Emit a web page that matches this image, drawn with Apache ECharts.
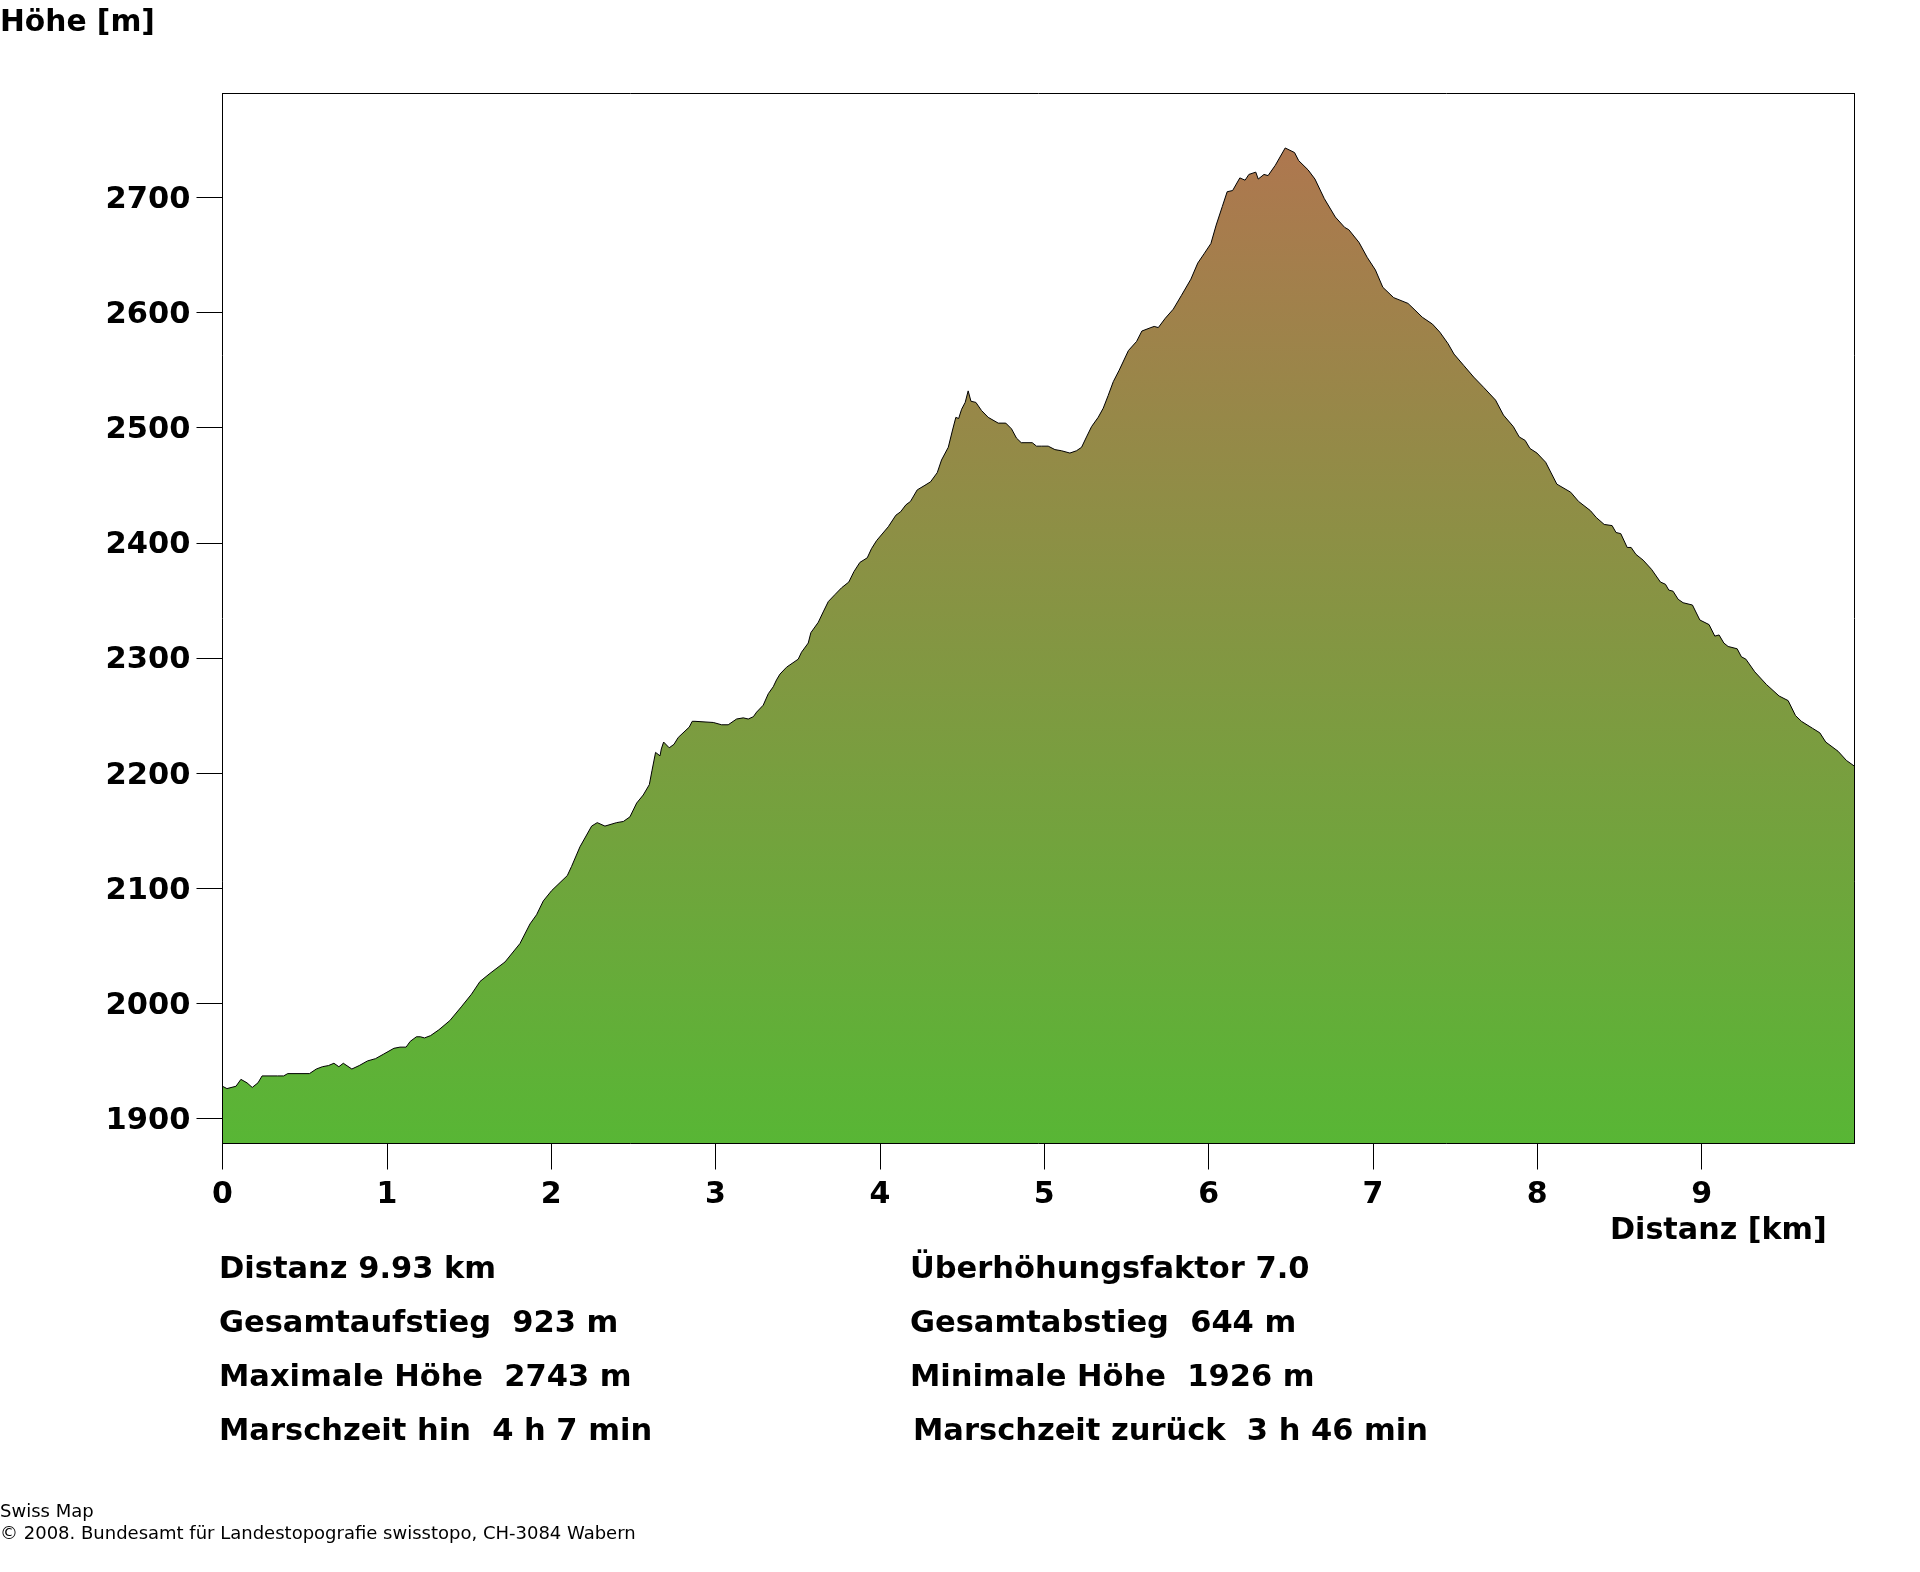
<!DOCTYPE html>
<html>
<head>
<meta charset="utf-8">
<title>Höhenprofil</title>
<style>
  html, body { margin: 0; padding: 0; background: #fff; }
  #chart { width: 1920px; height: 1572px; }
</style>
<script src="https://cdn.jsdelivr.net/npm/echarts@6/dist/echarts.min.js"></script>
</head>
<body>
<div id="chart"></div>
<script>
const distKm = [
  0, .027, .082, .112, .119, .149, .181, .216, .241, .335, .372, .397, .529, .571, .608, .645, .678, .708, .735, .787,
  .832, .882, .931, .981, 1.043, 1.080, 1.117, 1.142, 1.180, 1.204, 1.229, 1.266, 1.316, 1.383, 1.453, 1.515, 1.5665, 1.627, 1.719, 1.810,
  1.871, 1.911, 1.952, 2.003, 2.098, 2.124, 2.175, 2.246, 2.280, 2.327, 2.398, 2.439, 2.479, 2.520, 2.560, 2.597, 2.613, 2.635, 2.662, 2.670,
  2.684, 2.718, 2.747, 2.773, 2.840, 2.858, 2.875, 2.986, 3.037, 3.077, 3.128, 3.169, 3.199, 3.230, 3.250, 3.290, 3.321, 3.351, 3.371, 3.392,
  3.432, 3.503, 3.523, 3.564, 3.580, 3.625, 3.655, 3.686, 3.726, 3.767, 3.811, 3.842, 3.878, 3.923, 3.949, 3.980, 4.051, 4.097, 4.126, 4.158,
  4.186, 4.227, 4.274, 4.308, 4.349, 4.375, 4.416, 4.442, 4.462, 4.479, 4.497, 4.519, 4.537, 4.554, 4.584, 4.618, 4.659, 4.720, 4.766, 4.801,
  4.831, 4.860, 4.927, 4.953, 4.984, 5.024, 5.065, 5.105, 5.156, 5.196, 5.227, 5.257, 5.288, 5.328, 5.359, 5.389, 5.420, 5.456, 5.512, 5.562,
  5.594, 5.649, 5.669, 5.694, 5.736, 5.785, 5.835, 5.892, 5.934, 5.972, 6.014, 6.046, 6.083, 6.113, 6.146, 6.190, 6.222, 6.245, 6.287, 6.302,
  6.337, 6.362, 6.406, 6.466, 6.523, 6.548, 6.605, 6.647, 6.704, 6.771, 6.828, 6.853, 6.915, 6.965, 7.015, 7.060, 7.126, 7.213, 7.250, 7.300,
  7.362, 7.407, 7.457, 7.493, 7.553, 7.613, 7.674, 7.746, 7.794, 7.854, 7.890, 7.926, 7.955, 7.998, 8.051, 8.119, 8.203, 8.251, 8.323, 8.359,
  8.407, 8.455, 8.479, 8.508, 8.547, 8.571, 8.600, 8.644, 8.695, 8.749, 8.780, 8.800, 8.826, 8.857, 8.887, 8.944, 8.989, 9.045, 9.080, 9.106,
  9.135, 9.161, 9.216, 9.242, 9.269, 9.323, 9.394, 9.471, 9.526, 9.571, 9.607, 9.674, 9.719, 9.755, 9.830, 9.881, 9.93
];
const hoeheM = [
  1928, 1926, 1928, 1934, 1935, 1931, 1927, 1931, 1937, 1937, 1937, 1939, 1939, 1943, 1945, 1946, 1948, 1945, 1948, 1943,
  1946, 1950, 1952, 1956, 1961, 1962, 1962, 1967, 1971, 1971, 1970, 1972, 1977, 1985, 1997, 2008, 2019, 2026, 2036, 2052,
  2069, 2077, 2089, 2098, 2111, 2119, 2136, 2154, 2157, 2154, 2157, 2158, 2162, 2174, 2181, 2190, 2202, 2218, 2215, 2221,
  2227, 2222, 2225, 2231, 2240, 2245, 2245, 2244, 2242, 2242, 2247, 2248, 2247, 2249, 2253, 2259, 2269, 2275, 2281, 2286,
  2292, 2299, 2305, 2313, 2322, 2331, 2340, 2349, 2355, 2361, 2366, 2375, 2383, 2387, 2395, 2402, 2414, 2424, 2427, 2433,
  2436, 2446, 2450, 2453, 2461, 2472, 2483, 2498, 2509, 2508, 2516, 2522, 2532, 2523, 2522, 2515, 2509, 2504, 2504, 2499,
  2491, 2487, 2487, 2484, 2484, 2484, 2481, 2480, 2478, 2480, 2483, 2492, 2501, 2509, 2517, 2528, 2540, 2550, 2567, 2575,
  2584, 2587, 2588, 2587, 2595, 2603, 2615, 2629, 2643, 2651, 2660, 2676, 2692, 2705, 2706, 2717, 2715, 2720, 2722, 2716,
  2720, 2719, 2728, 2743, 2739, 2732, 2724, 2716, 2699, 2683, 2674, 2672, 2661, 2648, 2637, 2622, 2613, 2608, 2603, 2596,
  2590, 2583, 2573, 2564, 2554, 2544, 2535, 2524, 2511, 2501, 2492, 2489, 2482, 2478, 2470, 2451, 2444, 2436, 2428, 2422,
  2416, 2415, 2409, 2408, 2396, 2396, 2390, 2385, 2377, 2366, 2364, 2359, 2358, 2351, 2348, 2346, 2333, 2329, 2319, 2320,
  2313, 2310, 2308, 2301, 2299, 2288, 2277, 2267, 2263, 2250, 2245, 2239, 2235, 2227, 2219, 2211, 2206
];
const kmTicks = [0, 1, 2, 3, 4, 5, 6, 7, 8, 9];
const hoeheTicks = [1900, 2000, 2100, 2200, 2300, 2400, 2500, 2600, 2700];
const statsLinks = ['Distanz 9.93 km', 'Gesamtaufstieg  923 m', 'Maximale Höhe  2743 m', 'Marschzeit hin  4 h 7 min'];
const statsRechts = ['Überhöhungsfaktor 7.0', 'Gesamtabstieg  644 m', 'Minimale Höhe  1926 m', 'Marschzeit zurück  3 h 46 min'];
const fussnote = ['Swiss Map', '© 2008. Bundesamt für Landestopografie swisstopo, CH-3084 Wabern'];

const FONT = '"DejaVu Sans"';
const myChart = echarts.init(document.getElementById('chart'));

// y ist die Grundlinie, der Text wird aber von oben gesetzt
function boldText(text, x, y, size) {
  return {
    type: 'text', x: x, y: y - 0.81 * size,
    style: { text: text, font: 'bold ' + size + 'px ' + FONT, fill: '#000' }
  };
}

const texte = [
  boldText('Höhe [m]', 0, 32, 29.7),
  boldText('Distanz [km]', 1610, 1241, 30.2)
];
statsLinks.forEach((t, i) => texte.push(boldText(t, 219, 1279 + i * 54, 30.5)));
statsRechts.forEach((t, i) => texte.push(boldText(t, i === 3 ? 913 : 910, 1279 + i * 54, 30.5)));
fussnote.forEach((t, i) => texte.push({
  type: 'text', x: 0, y: 1518 + i * 22 - 14.6,
  style: { text: t, font: '18px ' + FONT, fill: '#000' }
}));

const frameLine = { show: true, onZero: false, lineStyle: { color: '#000', width: 1 } };

myChart.setOption({
  animation: false,
  backgroundColor: '#fff',
  grid: { left: 222.5, top: 93.5, width: 1632, height: 1050 },
  xAxis: [
    {
      type: 'value', min: 0, max: 9.93, z: 5,
      splitLine: { show: false },
      axisLine: frameLine,
      axisTick: { show: true, length: 26, customValues: kmTicks, lineStyle: { color: '#000', width: 1 } },
      axisLabel: {
        customValues: kmTicks, margin: 37, color: '#000', fontFamily: FONT, fontWeight: 'bold', fontSize: 30,
        formatter: v => String(v)
      }
    },
    { type: 'value', position: 'top', min: 0, max: 9.93, z: 5, splitLine: { show: false }, axisLine: frameLine, axisTick: { show: false }, axisLabel: { show: false } }
  ],
  yAxis: [
    {
      type: 'value', min: 1878.3, max: 2790.3, z: 5,
      splitLine: { show: false },
      axisLine: frameLine,
      axisTick: { show: true, length: 26, customValues: hoeheTicks, lineStyle: { color: '#000', width: 1 } },
      axisLabel: {
        customValues: hoeheTicks, margin: 32, color: '#000', fontFamily: FONT, fontWeight: 'bold', fontSize: 30.5,
        verticalAlign: 'top', lineHeight: 5,
        formatter: v => String(v)
      }
    },
    { type: 'value', position: 'right', min: 1878.3, max: 2790.3, z: 5, splitLine: { show: false }, axisLine: frameLine, axisTick: { show: false }, axisLabel: { show: false } }
  ],
  series: [{
    type: 'line',
    data: distKm.map((d, i) => [d, hoeheM[i]]),
    showSymbol: false,
    smooth: false,
    lineStyle: { color: '#000', width: 1 },
    areaStyle: {
      opacity: 1,
      origin: 'start',
      color: new echarts.graphic.LinearGradient(0, 0, 0, 1, [
        { offset: 0, color: '#ae774f' },
        { offset: 1, color: '#58b635' }
      ])
    }
  }],
  graphic: texte
});
</script>
</body>
</html>
